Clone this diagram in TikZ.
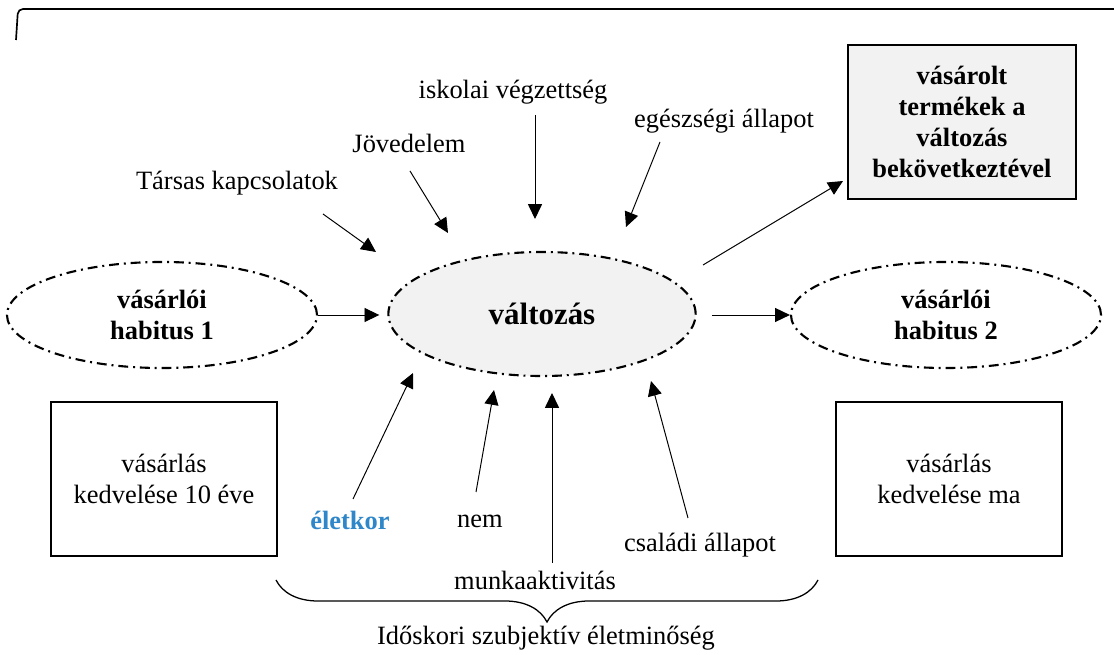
\documentclass[tikz,border=0pt]{standalone}
\usepackage{fontspec}
\setmainfont{Liberation Serif}
\usepackage{xcolor}
\usepackage{tikz}
\usetikzlibrary{shapes, arrows.meta, positioning, decorations.pathreplacing}
\definecolor{boxgray}{HTML}{F2F2F2}
\definecolor{ageblue}{HTML}{2F87C9}

\begin{document}
\begin{tikzpicture}[x=0.025cm, y=-0.025cm,
        every node/.style={font=\fontsize{18.8}{22}\selectfont},
        oval/.style={ellipse, draw, line width=1.5pt, dash pattern=on 7pt off 3.5pt on 1.4pt off 3.5pt, minimum width=7.75cm, minimum height=2.65cm, inner sep=0pt, align=center, font=\fontsize{18.8}{22}\selectfont\bfseries},
        block/.style={rectangle, draw, line width=1.9pt, minimum width=5.65cm, minimum height=3.85cm, align=center},
        arrow/.style={-{Triangle[length=0.37cm, width=0.35cm]}, line width=0.7pt}
        ]
        \useasboundingbox (0,0) rectangle (1114,655);

        % frame corner
        \draw[line width=1.2pt, rounded corners=3.5pt] (16,40) -- (18,9) -- (1114,9);

        % main nodes
        \node[oval] (habit1) at (162,315) {vásárlói\\habitus 1};
        \node[oval, fill=boxgray, minimum width=7.68cm, minimum height=3.1cm, font=\fontsize{22}{26}\selectfont\bfseries] (valtozas) at (542,314) {változás};
        \node[oval] (habit2) at (946,315) {vásárlói\\habitus 2};
        \node[block, fill=boxgray, minimum width=5.7cm, font=\fontsize{18.8}{22}\selectfont\bfseries] (termek) at (962,122) {vásárolt\\termékek a\\változás\\bekövetkeztével};
        \node[block] (kedv1) at (164,479) {vásárlás\\kedvelése 10 éve};
        \node[block] (kedv2) at (949,479) {vásárlás\\kedvelése ma};

        % factors
        \node (tarsas) at (237,183) {Társas kapcsolatok};
        \node (jovedelem) at (409,143) {Jövedelem};
        \node (iskola) at (513,92) {iskolai végzettség};
        \node (egeszseg) at (724,121) {egészségi állapot};
        \node[text=ageblue, font=\fontsize{18.8}{22}\selectfont\bfseries] (eletkor) at (350,520) {életkor};
        \node (nem) at (480,521) {nem};
        \node (munka) at (535,580) {munkaaktivitás};
        \node (csaladi) at (700,545) {családi állapot};
        \node (idoskor) at (546,638) {Időskori szubjektív életminőség};

        % arrow ends
        \coordinate (tarsasT) at (323,214);  \coordinate (tarsasH) at (376,252);
        \coordinate (jovT) at (410,171);     \coordinate (jovH) at (448,233);
        \coordinate (iskT) at (535,115);     \coordinate (iskH) at (535,219);
        \coordinate (egT) at (660,142);      \coordinate (egH) at (626,227);
        \coordinate (eletT) at (353,499);    \coordinate (eletH) at (413,373);
        \coordinate (nemT) at (476,492);     \coordinate (nemH) at (494,390);
        \coordinate (munkaT) at (552,563);   \coordinate (munkaH) at (552,393);
        \coordinate (csalT) at (688,518);    \coordinate (csalH) at (651,381);
        \coordinate (termT) at (703,265);    \coordinate (termH) at (843,181);
        \coordinate (braceL) at (276,580);   \coordinate (braceR) at (818,580);

        \draw[arrow, shorten >=0.2cm] (habit1.east) -- (valtozas.west |- habit1.east);
        \draw[arrow, shorten <=0.38cm] (valtozas.east |- habit2.west) -- (habit2.west);
        \draw[arrow] (termT) -- (termH);

        \draw[arrow] (tarsasT) -- (tarsasH);
        \draw[arrow] (jovT) -- (jovH);
        \draw[arrow] (iskT) -- (iskH);
        \draw[arrow] (egT) -- (egH);
        \draw[arrow] (eletT) -- (eletH);
        \draw[arrow] (nemT) -- (nemH);
        \draw[arrow] (munkaT) -- (munkaH);
        \draw[arrow] (csalT) -- (csalH);

        \draw[line width=0.9pt, decorate, decoration={brace, mirror, amplitude=1.05cm}] (braceL) -- (braceR);

    \end{tikzpicture}
\end{document}
